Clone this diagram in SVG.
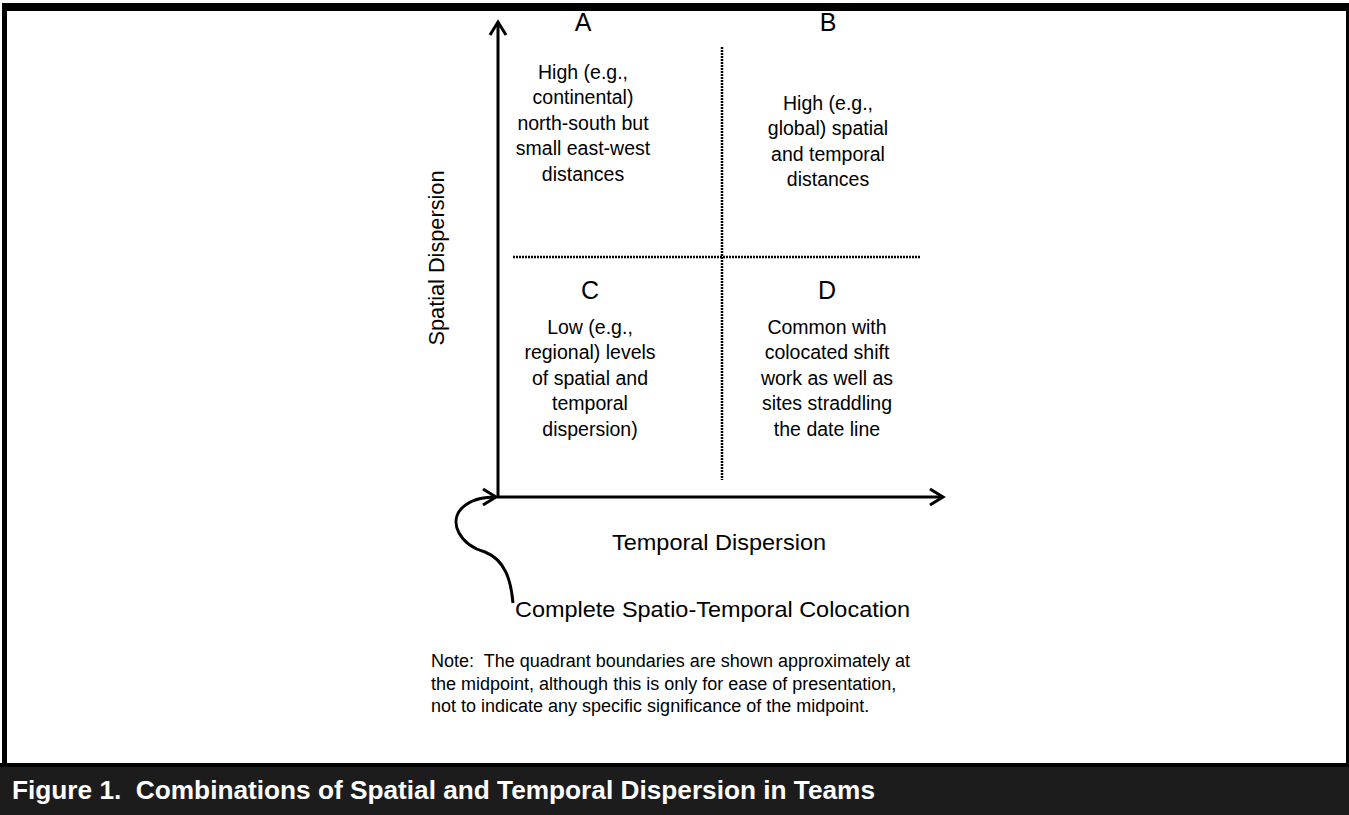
<svg xmlns="http://www.w3.org/2000/svg" width="1349" height="815" viewBox="0 0 1349 815">
<defs>
<style>
.t{font-family:"Liberation Sans",Arial,sans-serif;fill:#000;text-anchor:middle}
.q{font-size:19.5px}
.h{font-size:25px}
.lab{font-size:22px}
.n{font-family:"Liberation Sans",Arial,sans-serif;font-size:18px;fill:#000}
.ax{stroke:#000;stroke-width:3;fill:none}
.dot{stroke:#000;stroke-width:2.5;stroke-dasharray:2 1;fill:none}
</style>
<marker id="arr" viewBox="0 0 20 20" refX="17" refY="10" markerWidth="20" markerHeight="20" markerUnits="userSpaceOnUse" orient="auto">
<path d="M4,2 L17,10 L4,18" fill="none" stroke="#000" stroke-width="3"/>
</marker>
</defs>
<rect x="0" y="0" width="1349" height="815" fill="#fff"/>
<g id="frame">
<rect x="2" y="3" width="1347" height="8" fill="#000"/>
<rect x="2" y="3" width="5" height="762" fill="#000"/>
<rect x="1346" y="3" width="3" height="762" fill="#000"/>
<rect x="0" y="763" width="1349" height="4" fill="#000"/>
<rect x="0" y="767" width="1349" height="48" fill="#1c1c1c"/>
<text x="12" y="799" xml:space="preserve" textLength="863" lengthAdjust="spacingAndGlyphs" style="font-family:'Liberation Sans',Arial,sans-serif;font-weight:bold;font-size:25px;fill:#fff">Figure 1.  Combinations of Spatial and Temporal Dispersion in Teams</text>
</g>
<g id="connectors">
<line class="ax" x1="498" y1="497" x2="498" y2="22" marker-end="url(#arr)"/>
<line class="ax" x1="497" y1="497" x2="943" y2="497" marker-end="url(#arr)"/>
<line class="dot" x1="722" y1="47" x2="722" y2="480"/>
<line class="dot" x1="513" y1="257" x2="920" y2="257"/>
<path class="ax" d="M513,603 C511,580 505,560 485,552 C460,545 448,522 462,508 C470,500 482,497 496,497" marker-end="url(#arr)"/>
</g>
<g id="quadA">
<text class="t h" x="583" y="31">A</text>
<text class="t q" x="583" y="79">High (e.g.,</text>
<text class="t q" x="583" y="104">continental)</text>
<text class="t q" x="583" y="130">north-south but</text>
<text class="t q" x="583" y="155">small east-west</text>
<text class="t q" x="583" y="181">distances</text>
</g>
<g id="quadB">
<text class="t h" x="828" y="31">B</text>
<text class="t q" x="828" y="110">High (e.g.,</text>
<text class="t q" x="828" y="135">global) spatial</text>
<text class="t q" x="828" y="161">and temporal</text>
<text class="t q" x="828" y="186">distances</text>
</g>
<g id="quadC">
<text class="t h" x="590" y="299">C</text>
<text class="t q" x="590" y="334">Low (e.g.,</text>
<text class="t q" x="590" y="359">regional) levels</text>
<text class="t q" x="590" y="385">of spatial and</text>
<text class="t q" x="590" y="410">temporal</text>
<text class="t q" x="590" y="436">dispersion)</text>
</g>
<g id="quadD">
<text class="t h" x="827" y="299">D</text>
<text class="t q" x="827" y="334">Common with</text>
<text class="t q" x="827" y="359">colocated shift</text>
<text class="t q" x="827" y="385">work as well as</text>
<text class="t q" x="827" y="410">sites straddling</text>
<text class="t q" x="827" y="436">the date line</text>
</g>
<g id="ylabel">
<text class="t lab" transform="translate(444,258) rotate(-90)" textLength="175" lengthAdjust="spacingAndGlyphs">Spatial Dispersion</text>
</g>
<g id="xlabel">
<text class="t lab" x="719" y="550" textLength="214" lengthAdjust="spacingAndGlyphs">Temporal Dispersion</text>
</g>
<g id="origin">
<text class="t lab" x="515" y="617" style="text-anchor:start" textLength="395" lengthAdjust="spacingAndGlyphs">Complete Spatio-Temporal Colocation</text>
</g>
<g id="note">
<text class="n" x="431" y="667" xml:space="preserve">Note:  The quadrant boundaries are shown approximately at</text>
<text class="n" x="431" y="690">the midpoint, although this is only for ease of presentation,</text>
<text class="n" x="431" y="712">not to indicate any specific significance of the midpoint.</text>
</g>
</svg>
